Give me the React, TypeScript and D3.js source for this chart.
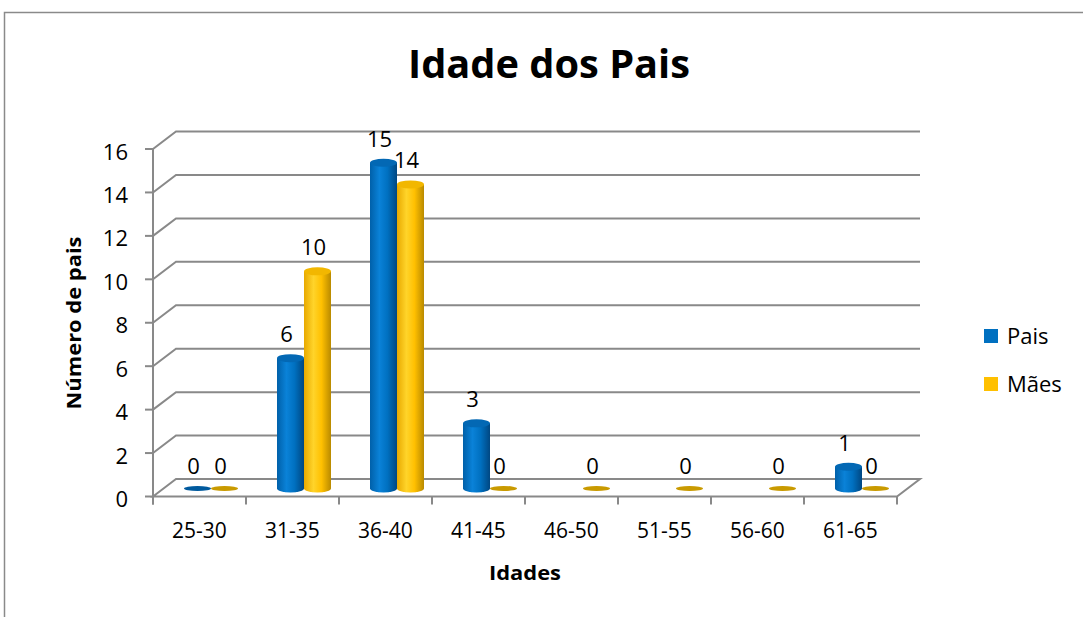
import * as d3 from 'd3'

const categories = ['25-30', '31-35', '36-40', '41-45', '46-50', '51-55', '56-60', '61-65']
const series = ['Pais', 'Mães']
// empty cells in the source sheet are kept as null (nothing drawn)
const pais: (number | null)[] = [0, 6, 15, 3, null, null, null, 1]
const maes: (number | null)[] = [0, 10, 14, 0, 0, 0, 0, 0]
const yTicks = [0, 2, 4, 6, 8, 10, 12, 14, 16]

const W = 1083
const H = 617
const FONT = '"Open Sans", "Liberation Sans", sans-serif'

// depth of the 3d box and where the bars sit inside it
const DX = 23
const DY = -17.5
const BX = 11.5
const BY = -8

const colors = {
  Pais: { stops: ['#0060a9', '#0a82d8', '#0070c0', '#004782'], top: '#0368b4', flat: '#005a9e', legend: '#0070c0' },
  Mães: { stops: ['#e8a900', '#ffd42a', '#ffc000', '#b98a00'], top: '#f2b700', flat: '#c99a00', legend: '#ffc000' },
}

export default function App() {
  const x = d3.scaleBand<string>().domain(categories).range([153, 897]).padding(0)
  const y = d3.scaleLinear().domain([0, 16]).range([496.5, 149])
  const xs = d3.scaleBand<string>().domain(series).range([-27, 27]).padding(0)
  const rx = xs.bandwidth() / 2
  const ry = 4

  const values: Record<string, (number | null)[]> = { Pais: pais, Mães: maes }
  const x0 = x.range()[0]
  const x1 = x.range()[1]

  const bars = categories.flatMap((c, i) =>
    series.map(s => {
      const v = values[s][i]
      const cx = (x(c) as number) + x.bandwidth() / 2 + BX + (xs(s) as number) + rx
      return { c, s, v: v as number, cx, top: y(v ?? 0) + BY, bot: y(0) + BY, empty: v === null }
    })
  ).filter(b => !b.empty)

  return (
    <svg width={W} height={H} style={{ display: 'block', position: 'absolute', left: 0, top: 0, background: '#fff' }}>
      <defs>
        {series.map((s, k) => (
          <linearGradient key={s} id={`grad${k}`} x1="0" x2="1" y1="0" y2="0">
            <stop offset="0" stopColor={colors[s].stops[0]} />
            <stop offset="0.35" stopColor={colors[s].stops[1]} />
            <stop offset="0.65" stopColor={colors[s].stops[2]} />
            <stop offset="1" stopColor={colors[s].stops[3]} />
          </linearGradient>
        ))}
      </defs>

      {/* chart frame */}
      <rect x={4.5} y={12.5} width={1200} height={700} fill="none" stroke="#8a8a8a" strokeWidth={1.5} />

      <text x={549} y={78} textAnchor="middle" fontFamily={FONT} fontWeight="bold" fontSize={39}
        textLength={282} lengthAdjust="spacingAndGlyphs" fill="#000">Idade dos Pais</text>

      {/* gridlines on side and back walls */}
      {yTicks.filter(t => t > 0).map(t => (
        <polyline key={t} fill="none" stroke="#898989" strokeWidth={2}
          points={`${x0},${y(t)} ${x0 + DX},${y(t) + DY} ${x1 + DX},${y(t) + DY}`} />
      ))}

      {/* floor */}
      <polygon fill="none" stroke="#898989" strokeWidth={2}
        points={`${x0},${y(0)} ${x0 + DX},${y(0) + DY} ${x1 + DX},${y(0) + DY} ${x1},${y(0)}`} />

      {/* y axis */}
      <line x1={x0} x2={x0} y1={y(16)} y2={y(0) + 8} stroke="#898989" strokeWidth={2} />
      {yTicks.map(t => (
        <g key={t}>
          <line x1={x0 - 8} x2={x0} y1={y(t)} y2={y(t)} stroke="#898989" strokeWidth={2} />
          <text x={128} y={y(t) + 1.5} textAnchor="end" dominantBaseline="central"
            fontFamily={FONT} fontSize={22} fill="#000">{t}</text>
        </g>
      ))}

      {/* x axis ticks and labels */}
      {[...categories.map(c => x(c) as number), x1].map((tx, i) => (
        <line key={i} x1={tx} x2={tx} y1={y(0)} y2={y(0) + 8} stroke="#898989" strokeWidth={2} />
      ))}
      {categories.map(c => (
        <text key={c} x={(x(c) as number) + x.bandwidth() / 2} y={538} textAnchor="middle"
          fontFamily={FONT} fontSize={21} fill="#000">{c}</text>
      ))}

      {/* cylinders */}
      {bars.map((b, i) => {
        const k = series.indexOf(b.s)
        if (b.v === 0) {
          return <ellipse key={i} cx={b.cx} cy={b.bot} rx={rx} ry={2.6} fill={colors[b.s].flat} />
        }
        const l = b.cx - rx
        const r = b.cx + rx
        return (
          <g key={i}>
            <path fill={`url(#grad${k})`}
              d={`M${l},${b.top} L${l},${b.bot} A${rx},${ry} 0 0 0 ${r},${b.bot} L${r},${b.top} Z`} />
            <ellipse cx={b.cx} cy={b.top} rx={rx} ry={ry} fill={colors[b.s].top} />
          </g>
        )
      })}

      {/* data labels */}
      {bars.map((b, i) => (
        <text key={i} x={b.cx - 4} y={b.top - (b.v === 0 ? 2.6 : ry) - 12} textAnchor="middle"
          fontFamily={FONT} fontSize={22} fill="#000">{b.v}</text>
      ))}

      {/* axis titles */}
      <text x={525} y={580} textAnchor="middle" fontFamily={FONT} fontWeight="bold" fontSize={20}
        textLength={72} lengthAdjust="spacingAndGlyphs" fill="#000">Idades</text>
      <text transform="translate(81,323) rotate(-90)" textAnchor="middle" fontFamily={FONT}
        fontWeight="bold" fontSize={20} textLength={173} lengthAdjust="spacingAndGlyphs" fill="#000">Número de pais</text>

      {/* legend */}
      {series.map((s, k) => (
        <g key={s} transform={`translate(984,${329 + k * 48})`}>
          <rect width={14} height={14} fill={colors[s].legend} />
          <text x={23} y={15} fontFamily={FONT} fontSize={22} fill="#000">{s}</text>
        </g>
      ))}
    </svg>
  )
}
